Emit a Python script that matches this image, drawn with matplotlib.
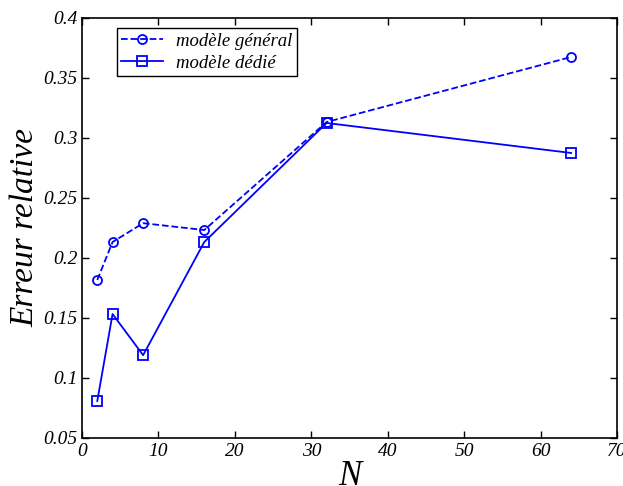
import numpy as np
import matplotlib.pyplot as plt

plt.rcParams['font.family'] = ['Liberation Serif', 'DejaVu Serif']
plt.rcParams['font.style'] = 'italic'
plt.rcParams['mathtext.default'] = 'it'

N = [2, 4, 8, 16, 32, 64]
err_general = [0.1817, 0.2133, 0.229, 0.2233, 0.3133, 0.3675]
err_dedie = [0.0808, 0.1533, 0.119, 0.2133, 0.3125, 0.2875]

fig = plt.figure(figsize=(6.23, 4.86), dpi=100)
ax = fig.add_axes([0.1316, 0.0988, 0.8588, 0.8642])

ax.plot(N, err_general, '--o', color='#0000ff', lw=1.3, ms=6.5, mfc='none', mew=1.3,
        label='modèle général')
ax.plot(N, err_dedie, '-s', color='#0000ff', lw=1.3, ms=6.5, mfc='none', mew=1.3,
        label='modèle dédié')

ax.set_xlim(0, 70)
ax.set_ylim(0.05, 0.4)
ax.set_xticks(np.arange(0, 71, 10))
ax.set_yticks(np.arange(0.05, 0.401, 0.05))
ax.set_yticklabels(['0.05', '0.1', '0.15', '0.2', '0.25', '0.3', '0.35', '0.4'])
ax.tick_params(direction='in', top=True, right=True, labelsize=14, length=5, width=1)
for s in ax.spines.values():
    s.set_linewidth(1.2)

ax.set_xlabel('N', fontsize=25, labelpad=0)
ax.set_ylabel('Erreur relative', fontsize=24, labelpad=2)

leg = ax.legend(loc='upper left', bbox_to_anchor=(0.065, 0.976), fontsize=13.5,
                fancybox=False, edgecolor='black', framealpha=1, borderaxespad=0,
                handlelength=2.2, borderpad=0.25, labelspacing=0.25, handletextpad=0.7)
leg.get_frame().set_linewidth(1.0)

fig.savefig('out.png', dpi=100)
